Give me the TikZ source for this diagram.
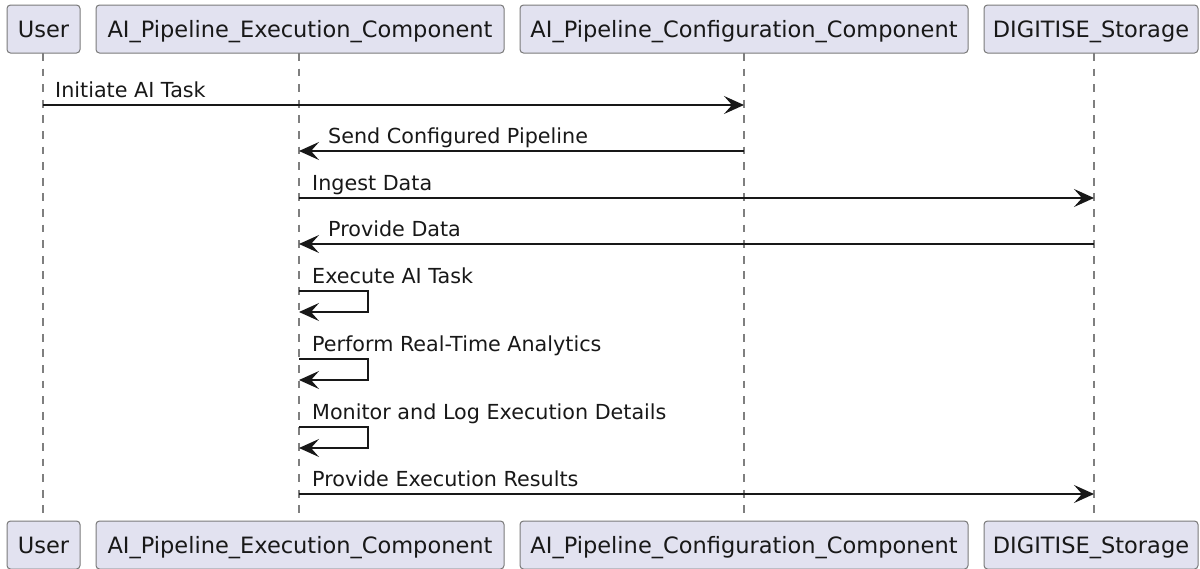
\documentclass[tikz,border=0pt]{standalone}
\usepackage{fontspec}
\setmainfont{DejaVu Sans}
\usetikzlibrary{arrows.meta}
\definecolor{partfill}{HTML}{E2E2F0}
\definecolor{ink}{HTML}{181818}
\definecolor{partline}{HTML}{7A7A7A}
\definecolor{lifegray}{HTML}{7F7F7F}
\tikzset{
 part/.style={draw=partline, line width=1pt, fill=partfill, rounded corners=3.5pt, minimum height=48pt, inner sep=0pt, text height=20pt, text depth=4pt, font=\fontsize{22.5}{24}\selectfont, text=ink},
 life/.style={draw=lifegray, line width=1.1pt, dash pattern=on 7.8pt off 7.8pt},
 msg/.style={draw=ink, line width=1.4pt, -{Stealth[length=20pt,width=18pt,inset=8pt]}},
 lbl/.style={anchor=base west, inner sep=0pt, font=\fontsize{20.7}{22}\selectfont, text=ink},
}
\begin{document}
\begin{tikzpicture}[x=1pt,y=-1pt]
\useasboundingbox (0,0) rectangle (1200,568);
% lifelines
\coordinate (uT) at (43,53);   \coordinate (uB) at (43,521);
\coordinate (eT) at (299,53);  \coordinate (eB) at (299,521);
\coordinate (cT) at (744,53);  \coordinate (cB) at (744,521);
\coordinate (sT) at (1094,53); \coordinate (sB) at (1094,521);
\draw[life] (uT) -- (uB);
\draw[life] (eT) -- (eB);
\draw[life] (cT) -- (cB);
\draw[life] (sT) -- (sB);
% participants
\node[part, minimum width=73pt]  (userTop) at (43.5,29) {User};
\node[part, minimum width=408pt] (execTop) at (300,29) {AI\_Pipeline\_Execution\_Component};
\node[part, minimum width=448pt] (confTop) at (744,29) {AI\_Pipeline\_Configuration\_Component};
\node[part, minimum width=214pt] (storTop) at (1091,29) {DIGITISE\_Storage};
\node[part, minimum width=73pt]  (userBot) at (43.5,545) {User};
\node[part, minimum width=408pt] (execBot) at (300,545) {AI\_Pipeline\_Execution\_Component};
\node[part, minimum width=448pt] (confBot) at (744,545) {AI\_Pipeline\_Configuration\_Component};
\node[part, minimum width=214pt] (storBot) at (1091,545) {DIGITISE\_Storage};
% message points
\coordinate (m1a) at (43,105);  \coordinate (m1b) at (744,105);
\coordinate (m2a) at (744,151); \coordinate (m2b) at (299,151);
\coordinate (m3a) at (299,198); \coordinate (m3b) at (1094,198);
\coordinate (m4a) at (1094,244);\coordinate (m4b) at (299,244);
\coordinate (m5a) at (299,291); \coordinate (m5b) at (299,312);
\coordinate (m6a) at (299,359); \coordinate (m6b) at (299,380);
\coordinate (m7a) at (299,427); \coordinate (m7b) at (299,448);
\coordinate (m8a) at (299,494); \coordinate (m8b) at (1094,494);
% messages
\draw[msg] (m1a) -- (m1b);
\node[lbl] (l1) at (55,97) {Initiate AI Task};
\draw[msg] (m2a) -- (m2b);
\node[lbl] (l2) at (328,143) {Send Configured Pipeline};
\draw[msg] (m3a) -- (m3b);
\node[lbl] (l3) at (312,190) {Ingest Data};
\draw[msg] (m4a) -- (m4b);
\node[lbl] (l4) at (328,236) {Provide Data};
\draw[msg] (m5a) -- ++(69,0) |- (m5b);
\node[lbl] (l5) at (312,283) {Execute AI Task};
\draw[msg] (m6a) -- ++(69,0) |- (m6b);
\node[lbl] (l6) at (312,351) {Perform Real-Time Analytics};
\draw[msg] (m7a) -- ++(69,0) |- (m7b);
\node[lbl] (l7) at (312,419) {Monitor and Log Execution Details};
\draw[msg] (m8a) -- (m8b);
\node[lbl] (l8) at (312,486) {Provide Execution Results};
\end{tikzpicture}
\end{document}
